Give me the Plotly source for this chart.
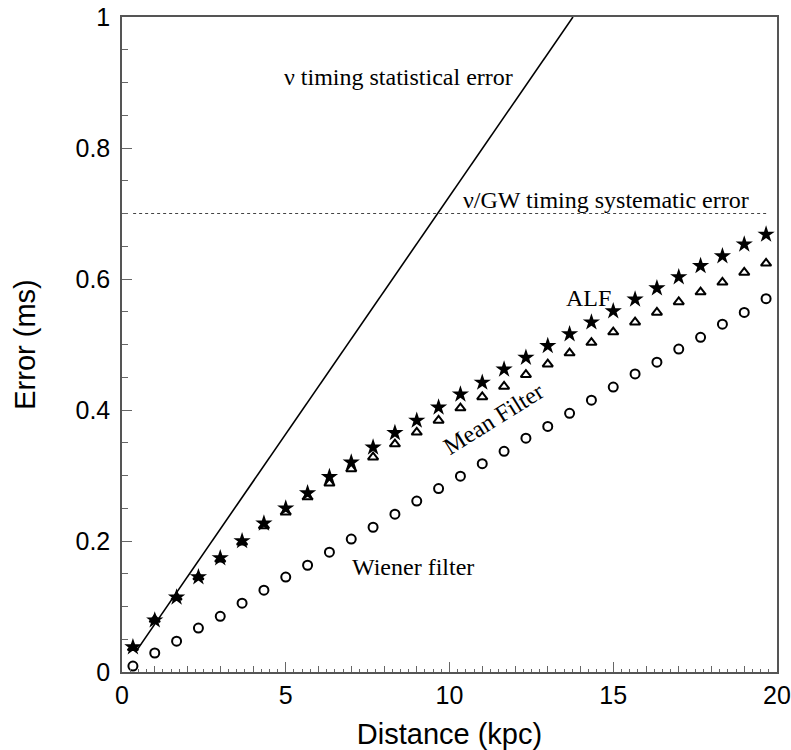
import plotly.graph_objects as go

# ---- data ----
distance = [1/3 + k*2/3 for k in range(30)]
alf = [0.038, 0.079, 0.114, 0.145, 0.174, 0.200, 0.227, 0.250, 0.273, 0.298,
       0.320, 0.343, 0.365, 0.384, 0.404, 0.424, 0.442, 0.462, 0.480, 0.498,
       0.516, 0.534, 0.551, 0.569, 0.586, 0.603, 0.620, 0.635, 0.653, 0.668]
mean_filter = [0.037, 0.080, 0.114, 0.145, 0.172, 0.198, 0.223, 0.244, 0.267, 0.288,
               0.310, 0.328, 0.348, 0.366, 0.384, 0.403, 0.420, 0.436, 0.454, 0.470,
               0.487, 0.503, 0.519, 0.534, 0.549, 0.565, 0.580, 0.595, 0.610, 0.624]
wiener = [0.009, 0.029, 0.047, 0.067, 0.085, 0.105, 0.125, 0.145, 0.163, 0.183,
          0.203, 0.221, 0.241, 0.261, 0.280, 0.299, 0.318, 0.337, 0.357, 0.375,
          0.395, 0.415, 0.435, 0.455, 0.473, 0.493, 0.511, 0.531, 0.549, 0.570]
stat_x = [0.45, 13.77]
stat_y = [0.033, 1.0]
sys_x = [0.34, 19.7]
sys_y = [0.7, 0.7]

x_ticks = [0, 5, 10, 15, 20]
x_ticklabels = ["0", "5", "10", "15", "20"]
y_ticks = [0, 0.2, 0.4, 0.6, 0.8, 1]
y_ticklabels = ["0", "0.2", "0.4", "0.6", "0.8", "1"]

labels = ["ν timing statistical error", "ν/GW timing systematic error",
          "ALF", "Mean Filter", "Wiener filter"]
label_x = [8.43, 14.78, 14.23, 11.33, 8.89]
label_y = [0.908, 0.720, 0.571, 0.387, 0.160]
label_angle = [0, 0, 0, -32, 0]

fig = go.Figure()
fig.add_trace(go.Scatter(x=stat_x, y=stat_y, mode="lines",
                         line=dict(color="black", width=1.6), showlegend=False))
fig.add_trace(go.Scatter(x=sys_x, y=sys_y, mode="lines",
                         line=dict(color="#444", width=1, dash="dot"), showlegend=False))
fig.add_trace(go.Scatter(x=distance, y=alf, mode="markers",
                         marker=dict(symbol="star", size=13, color="black"),
                         showlegend=False))
fig.add_trace(go.Scatter(x=distance, y=mean_filter, mode="markers",
                         marker=dict(symbol="triangle-up-open", size=9, color="black",
                                     line=dict(width=2, color="black")),
                         showlegend=False))
fig.add_trace(go.Scatter(x=distance, y=wiener, mode="markers",
                         marker=dict(symbol="circle-open", size=9, color="black",
                                     line=dict(width=2, color="black")),
                         showlegend=False))
# invisible helper traces so the overlay (tick-only) axes are drawn
for xa, ya in [("x2", "y"), ("x3", "y"), ("x", "y2")]:
    fig.add_trace(go.Scatter(x=[0], y=[0], xaxis=xa, yaxis=ya, mode="markers",
                             marker=dict(opacity=0), showlegend=False, hoverinfo="skip"))

serif = dict(family="Liberation Serif", size=24, color="black")
sans_tick = dict(family="Liberation Sans", size=25, color="black")
sans_title = dict(family="Liberation Sans", size=29, color="black")

fig.update_layout(
    width=791, height=750,
    margin=dict(l=122, r=14, t=17, b=78, autoexpand=False),
    paper_bgcolor="white", plot_bgcolor="white",
    # main axes: frame, labels and titles
    xaxis=dict(range=[0, 20], tickmode="array", tickvals=x_ticks, ticktext=x_ticklabels,
               ticks="", showline=True, linecolor="#555", linewidth=1.5, mirror=True,
               showgrid=False, zeroline=False, tickfont=sans_tick,
               ticklabelstandoff=0, automargin=False, ticklabeloverflow="allow",
               title=dict(text="Distance (kpc)", font=sans_title, standoff=19)),
    yaxis=dict(range=[0, 1], tickmode="array", tickvals=y_ticks, ticktext=y_ticklabels,
               ticks="", showline=True, linecolor="#555", linewidth=1.5, mirror=True,
               showgrid=False, zeroline=False, tickfont=sans_tick,
               ticklabelstandoff=5, automargin=False, ticklabeloverflow="allow",
               title=dict(text="Error (ms)", font=sans_title, standoff=31)),
    # inside ticks: major every 5 + minor every 0.25
    xaxis2=dict(range=[0, 20], overlaying="x", anchor="y", side="bottom",
                tickmode="array", tickvals=x_ticks,
                ticks="inside", ticklen=10, tickcolor="#666",
                minor=dict(dtick=0.25, ticks="inside", ticklen=3, tickcolor="#666"),
                showticklabels=False, showgrid=False, zeroline=False, showline=False,
                automargin=False),
    # medium ticks at every integer
    xaxis3=dict(range=[0, 20], overlaying="x", anchor="y", side="bottom",
                dtick=1, ticks="inside", ticklen=6, tickcolor="#666",
                showticklabels=False, showgrid=False, zeroline=False, showline=False,
                automargin=False),
    yaxis2=dict(range=[0, 1], overlaying="y", anchor="x", side="left",
                tickmode="array", tickvals=y_ticks,
                ticks="inside", ticklen=10, tickcolor="#666",
                minor=dict(dtick=0.05, ticks="inside", ticklen=6, tickcolor="#666"),
                showticklabels=False, showgrid=False, zeroline=False, showline=False,
                automargin=False),
)

for t, lx, ly, ang in zip(labels, label_x, label_y, label_angle):
    fig.add_annotation(x=lx, y=ly, xref="x", yref="y", text=t, showarrow=False,
                       font=serif, textangle=ang)

# remove the default 8px page margin so the figure sits at the window's corner
fig.write_html("out.html",
               config={"displayModeBar": False},
               post_script="document.body.style.margin='0';document.body.style.overflow='hidden';")
